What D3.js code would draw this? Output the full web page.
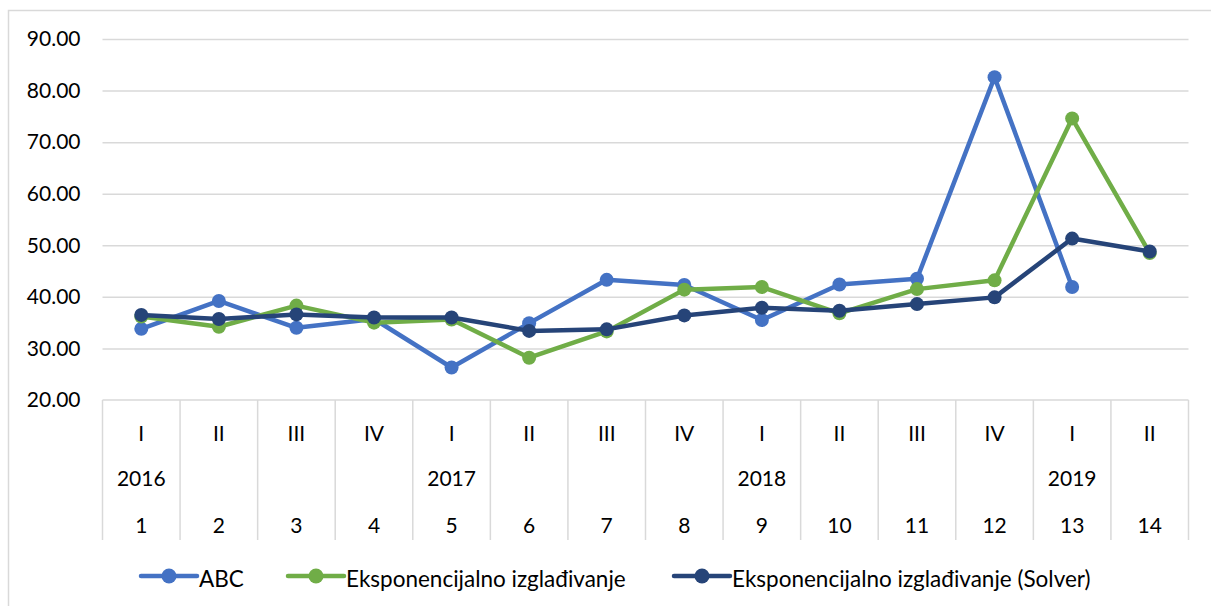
<!DOCTYPE html>
<html>
<head>
<meta charset="utf-8">
<script src="https://cdn.jsdelivr.net/npm/d3@7"></script>
<style>
  html, body { margin: 0; padding: 0; background: #fff; }
  svg { display: block; font-family: Lato, "Open Sans", sans-serif; }
</style>
</head>
<body>
<div id="chart"></div>
<script>
// Categories and axis labels
const periods = [1, 2, 3, 4, 5, 6, 7, 8, 9, 10, 11, 12, 13, 14];
const quarters = ["I", "II", "III", "IV", "I", "II", "III", "IV", "I", "II", "III", "IV", "I", "II"];
const years = ["2016", "", "", "", "2017", "", "", "", "2018", "", "", "", "2019", ""];
const yTicks = [20, 30, 40, 50, 60, 70, 80, 90];

// Series values
const abc = [33.8, 39.2, 34.0, 35.7, 26.3, 34.9, 43.3, 42.3, 35.5, 42.4, 43.5, 82.6, 41.9, null];
const expo = [36.2, 34.2, 38.3, 35.0, 35.6, 28.2, 33.3, 41.4, 41.9, 36.8, 41.5, 43.2, 74.6, 48.5];
const solver = [36.5, 35.7, 36.6, 36.0, 36.0, 33.4, 33.7, 36.4, 37.9, 37.3, 38.6, 39.9, 51.3, 48.8];

const seriesNames = ["ABC", "Eksponencijalno izglađivanje", "Eksponencijalno izglađivanje (Solver)"];
const seriesColors = ["#4472C4", "#70AD47", "#264478"];

// Figure
const width = 1211;
const height = 606;
const marginLeft = 102.5;
const marginRight = 22.5;
const marginTop = 39;
const plotBottom = 400;
const axisBottom = 540;
const fontSize = 21;

const svg = d3.create("svg")
    .attr("width", width)
    .attr("height", height)
    .attr("viewBox", [0, 0, width, height]);

// Chart area border
svg.append("rect")
    .attr("x", 8.5)
    .attr("y", 10.5)
    .attr("width", width)
    .attr("height", height)
    .attr("fill", "none")
    .attr("stroke", "#D9D9D9")
    .attr("stroke-width", 1.5);

// Scales
const x = d3.scaleBand()
    .domain(periods)
    .range([marginLeft, width - marginRight]);
const cx = d => x(d) + x.bandwidth() / 2;

const y = d3.scaleLinear()
    .domain([20, 90])
    .range([plotBottom, marginTop]);

// Gridlines
svg.append("g")
    .attr("transform", `translate(${marginLeft},0)`)
    .call(d3.axisLeft(y).tickValues(yTicks.slice(1)).tickSize(-(width - marginRight - marginLeft)).tickFormat(""))
    .call(g => g.select(".domain").remove())
    .call(g => g.selectAll("line").attr("stroke", "#D9D9D9").attr("stroke-width", 1.5));

// Y-axis labels
svg.append("g")
    .attr("transform", `translate(${marginLeft},0)`)
    .call(d3.axisLeft(y).tickValues(yTicks).tickSize(0).tickPadding(22).tickFormat(d3.format(".2f")))
    .call(g => g.select(".domain").remove())
    .call(g => g.selectAll("text")
        .attr("font-size", fontSize)
        .attr("font-family", "Lato, sans-serif")
        .attr("fill", "#000"));

// Multi-level category axis
const xAxis = svg.append("g");
xAxis.append("line")
    .attr("x1", marginLeft).attr("x2", width - marginRight)
    .attr("y1", plotBottom).attr("y2", plotBottom)
    .attr("stroke", "#D9D9D9").attr("stroke-width", 1.5);
const edges = periods.map(d => x(d)).concat([x(periods[periods.length - 1]) + x.bandwidth()]);
xAxis.selectAll(".sep")
    .data(edges)
    .join("line")
    .attr("class", "sep")
    .attr("x1", d => d).attr("x2", d => d)
    .attr("y1", plotBottom).attr("y2", axisBottom)
    .attr("stroke", "#D9D9D9").attr("stroke-width", 1.5);

const rows = [
  { labels: quarters, y: 441 },
  { labels: years, y: 486 },
  { labels: periods.map(String), y: 533 },
];
rows.forEach(row => {
  xAxis.append("g")
    .selectAll("text")
    .data(periods)
    .join("text")
    .attr("x", d => cx(d))
    .attr("y", row.y)
    .attr("text-anchor", "middle")
    .attr("font-size", fontSize)
    .attr("fill", "#000")
    .text((d, i) => row.labels[i]);
});

// Lines and markers
const allSeries = [abc, expo, solver];
const line = d3.line()
    .defined(d => d.v != null)
    .x(d => cx(d.p))
    .y(d => y(d.v));

allSeries.forEach((values, k) => {
  const pts = periods.map((p, i) => ({ p, v: values[i] }));
  svg.append("path")
      .datum(pts)
      .attr("fill", "none")
      .attr("stroke", seriesColors[k])
      .attr("stroke-width", 4.5)
      .attr("stroke-linejoin", "round")
      .attr("d", line);
  svg.append("g")
    .selectAll("circle")
    .data(pts.filter(d => d.v != null))
    .join("circle")
      .attr("cx", d => cx(d.p))
      .attr("cy", d => y(d.v))
      .attr("r", 7)
      .attr("fill", seriesColors[k]);
});

// Legend
const legendX = [141, 288, 674];
const legendY = 576;
const legend = svg.append("g");
seriesNames.forEach((name, k) => {
  const g = legend.append("g").attr("transform", `translate(${legendX[k]},${legendY})`);
  g.append("line")
      .attr("x1", 0).attr("x2", 56)
      .attr("stroke", seriesColors[k])
      .attr("stroke-width", 4.5)
      .attr("stroke-linecap", "round");
  g.append("circle")
      .attr("cx", 28)
      .attr("r", 7.5)
      .attr("fill", seriesColors[k]);
  g.append("text")
      .attr("x", 58)
      .attr("y", 11)
      .attr("font-size", 22.5)
      .attr("fill", "#000")
      .text(name);
});

document.getElementById("chart").appendChild(svg.node());
</script>
</body>
</html>
